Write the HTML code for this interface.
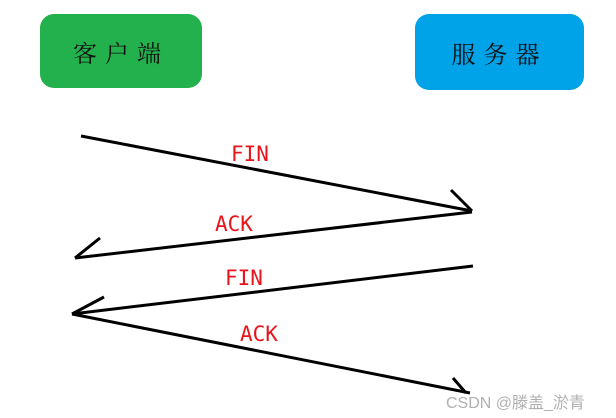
<!DOCTYPE html>
<html><head><meta charset="utf-8"><style>
html,body{margin:0;padding:0;background:#fff;}
body{width:616px;height:418px;position:relative;overflow:hidden;font-family:"Liberation Sans","Noto Sans CJK SC",sans-serif;}
.box{position:absolute;border-radius:14px;display:flex;align-items:center;justify-content:center;font-family:"Noto Serif CJK SC","Noto Sans CJK SC",serif;font-size:24px;letter-spacing:8px;color:#111;}
.lbl{position:absolute;color:#e8141c;font-size:21px;font-family:"DejaVu Sans Mono","Liberation Mono",monospace;}
</style></head><body>
<div class="box" style="left:40px;top:14px;width:162px;height:74px;background:#22b14c;">客户端</div>
<div class="box" style="left:415px;top:14px;width:169px;height:76px;background:#00a2e8;">服务器</div>
<svg width="616" height="418" style="position:absolute;left:0;top:0" fill="none" stroke="#000" stroke-width="3">
<polyline points="81,136 472,211"/>
<polyline points="451,190 472,211"/>
<polyline points="472,212 75,258"/>
<polyline points="100,238 75,258"/>
<polyline points="473,266 72,314"/>
<polyline points="104,297 72,314"/>
<polyline points="72,314 470,393"/>
<polyline points="453,378 466,393"/>
</svg>
<div class="lbl" style="left:231px;top:142px;">FIN</div>
<div class="lbl" style="left:215px;top:212px;">ACK</div>
<div class="lbl" style="left:225px;top:266px;">FIN</div>
<div class="lbl" style="left:240px;top:322px;">ACK</div>
<div style="position:absolute;left:446px;top:389px;font-size:16px;color:#b0b0b0;">CSDN @滕盖_淤青</div>
</body></html>
